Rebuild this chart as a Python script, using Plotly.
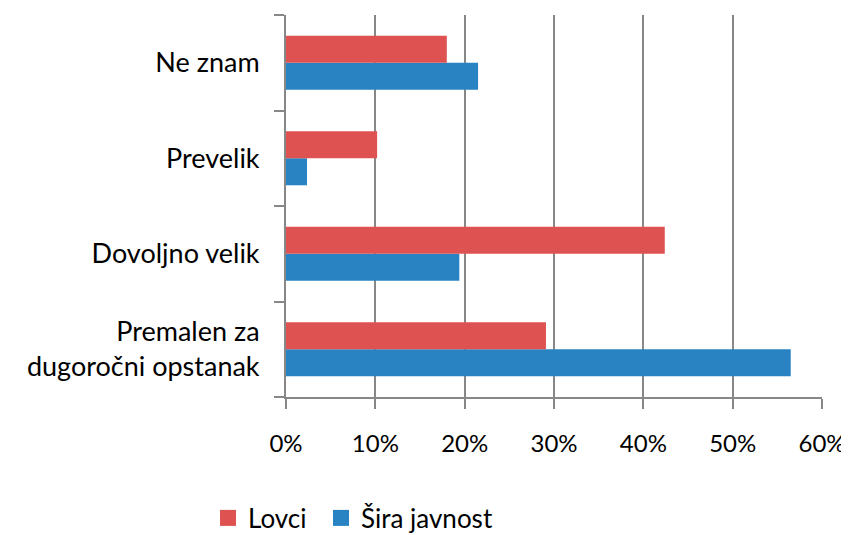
import plotly.graph_objects as go

categories = ["Premalen za<br>dugoročni opstanak", "Dovoljno velik", "Prevelik", "Ne znam"]
lovci = [29.1, 42.4, 10.2, 18.0]
sira_javnost = [56.5, 19.4, 2.35, 21.5]
x_ticks = [0, 10, 20, 30, 40, 50, 60]

RED = "#DF5252"
BLUE = "#2983C3"
GRID = "#878787"
FONT = "Lato"

# page body has an 8px margin, so the figure is sized to fit the 849x535 window
W, H = 841, 527

fig = go.Figure()
fig.add_trace(go.Bar(y=categories, x=sira_javnost, name="Šira javnost", orientation="h",
                     marker=dict(color=BLUE, line=dict(width=0)), showlegend=False))
fig.add_trace(go.Bar(y=categories, x=lovci, name="Lovci", orientation="h",
                     marker=dict(color=RED, line=dict(width=0)), showlegend=False))
# legend entries with larger square swatches
for name, color, leg in [("Lovci", RED, "legend"), ("Šira javnost", BLUE, "legend2")]:
    fig.add_trace(go.Scatter(x=[None], y=[None], mode="markers", name=name,
                             marker=dict(symbol="square", size=16, color=color),
                             legend=leg, hoverinfo="skip"))

legend_common = dict(orientation="h", xref="container", yref="container",
                     y=17 / H, xanchor="left", yanchor="middle",
                     font=dict(size=26), itemwidth=30, bgcolor="rgba(0,0,0,0)")

fig.update_layout(
    width=W, height=H,
    margin=dict(l=278, r=27, t=7, b=138, autoexpand=False),
    paper_bgcolor="white", plot_bgcolor="white",
    barmode="group", bargap=0.434, bargroupgap=0,
    font=dict(family=FONT, size=24, color="black"),
    showlegend=True,
    legend=dict(x=200 / W, **legend_common),
    legend2=dict(x=313 / W, **legend_common),
    xaxis=dict(range=[0, 60], tickvals=x_ticks, ticktext=[f"{v}%" for v in x_ticks],
               showgrid=True, gridcolor=GRID, gridwidth=2,
               showline=True, linecolor=GRID, linewidth=2,
               ticks="outside", ticklen=10, tickcolor=GRID, tickwidth=2,
               ticklabelstandoff=14, zeroline=False, fixedrange=True),
    yaxis=dict(categoryorder="array", categoryarray=categories,
               showgrid=False, showline=True, linecolor=GRID, linewidth=2,
               ticks="outside", ticklen=10, tickcolor=GRID, tickwidth=2,
               tickson="boundaries", ticklabelstandoff=19, fixedrange=True,
               tickfont=dict(size=27)),
)

fig.write_html("out.html")
